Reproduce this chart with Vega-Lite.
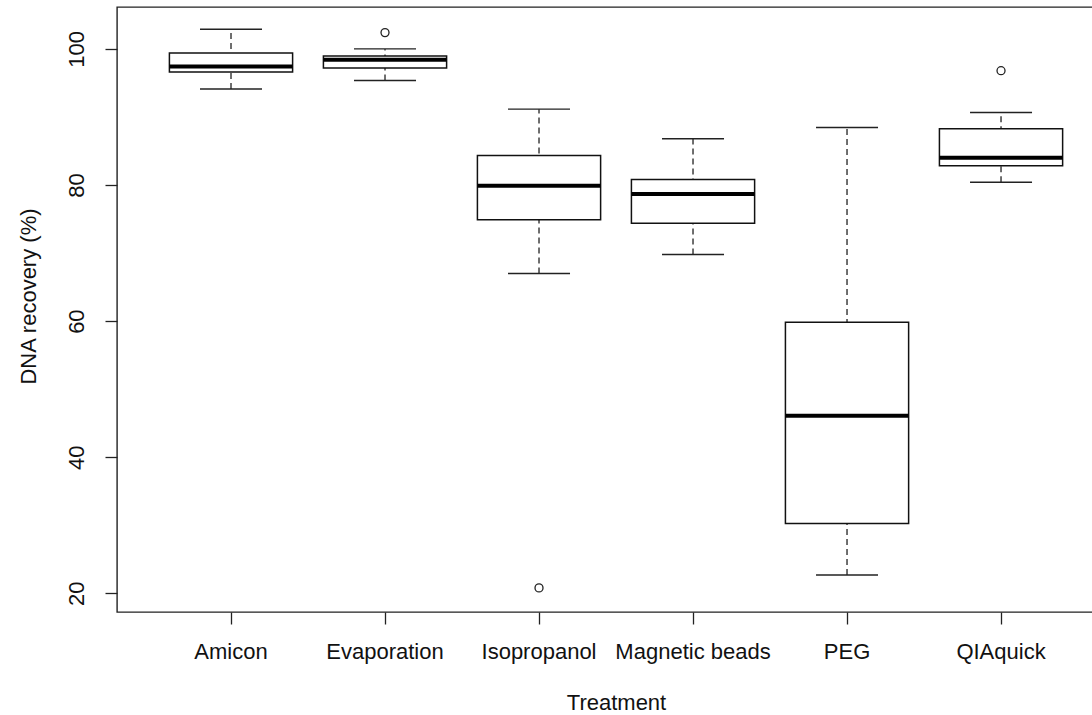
{
  "$schema": "https://vega.github.io/schema/vega-lite/v6.json",
  "width": 977,
  "height": 605,
  "autosize": {"type": "none"},
  "padding": {"left": 117, "top": 7, "right": 0, "bottom": 103},
  "background": "white",
  "config": {
    "view": {"stroke": "#222", "strokeWidth": 1.4},
    "font": "Liberation Sans"
  },
  "datasets": {
    "stats": [
      {"Treatment": "Amicon", "lower": 94.1, "q1": 96.6, "median": 97.4, "q3": 99.4, "upper": 102.9},
      {"Treatment": "Evaporation", "lower": 95.35, "q1": 97.2, "median": 98.4, "q3": 98.97, "upper": 100.0},
      {"Treatment": "Isopropanol", "lower": 67.0, "q1": 74.9, "median": 79.9, "q3": 84.35, "upper": 91.15},
      {"Treatment": "Magnetic beads", "lower": 69.8, "q1": 74.4, "median": 78.7, "q3": 80.8, "upper": 86.8},
      {"Treatment": "PEG", "lower": 22.7, "q1": 30.25, "median": 46.1, "q3": 59.85, "upper": 88.46},
      {"Treatment": "QIAquick", "lower": 80.4, "q1": 82.84, "median": 84.0, "q3": 88.26, "upper": 90.65}
    ],
    "outliers": [
      {"Treatment": "Evaporation", "value": 102.4},
      {"Treatment": "Isopropanol", "value": 20.8},
      {"Treatment": "QIAquick", "value": 96.8}
    ]
  },
  "encoding": {
    "x": {
      "field": "Treatment",
      "type": "nominal",
      "sort": ["Amicon", "Evaporation", "Isopropanol", "Magnetic beads", "PEG", "QIAquick"],
      "scale": {"type": "band", "paddingInner": 0.2, "paddingOuter": 0.272, "align": 0.6255, "round": false},
      "axis": {
        "title": "Treatment",
        "domain": false,
        "grid": false,
        "ticks": true,
        "tickSize": 12,
        "tickColor": "#222",
        "tickWidth": 1.3,
        "labelAngle": 0,
        "labelFontSize": 22,
        "labelColor": "#111",
        "labelPadding": 17,
        "labelBaseline": "top",
        "labelAlign": "center",
        "titleFontSize": 22,
        "titleFontWeight": "normal",
        "titleColor": "#111",
        "titleX": 499,
        "titleY": 97,
        "titleBaseline": "alphabetic",
        "titleAlign": "center"
      }
    }
  },
  "layer": [
    {
      "data": {"name": "stats"},
      "mark": {"type": "rule", "stroke": "#222", "strokeWidth": 1.3, "strokeDash": [6, 4]},
      "encoding": {
        "y": {
          "field": "lower",
          "type": "quantitative",
          "scale": {"domain": [17.26, 106.16], "nice": false, "zero": false},
          "axis": {
            "title": "DNA recovery (%)",
            "values": [20, 40, 60, 80, 100],
            "domain": false,
            "grid": false,
            "tickSize": 12,
            "tickColor": "#222",
            "tickWidth": 1.3,
            "labelAngle": 270,
            "labelAlign": "center",
            "labelBaseline": "bottom",
            "labelFontSize": 22,
            "labelColor": "#111",
            "labelPadding": 17,
            "titleFontSize": 22,
            "titleFontWeight": "normal",
            "titleColor": "#111",
            "titleAngle": 270,
            "titleX": -82,
            "titleY": 289,
            "titleAlign": "center",
            "titleBaseline": "alphabetic"
          }
        },
        "y2": {"field": "upper"}
      }
    },
    {
      "data": {"name": "stats"},
      "mark": {"type": "bar", "fill": "white", "stroke": "#111", "strokeWidth": 1.5},
      "encoding": {
        "y": {"field": "q1", "type": "quantitative"},
        "y2": {"field": "q3"}
      }
    },
    {
      "data": {"name": "stats"},
      "mark": {"type": "tick", "orient": "horizontal", "color": "#000", "size": 123, "thickness": 4, "opacity": 1},
      "encoding": {
        "y": {"field": "median", "type": "quantitative"}
      }
    },
    {
      "data": {"name": "stats"},
      "mark": {"type": "tick", "orient": "horizontal", "color": "#222", "size": 62, "thickness": 1.4, "opacity": 1},
      "encoding": {
        "y": {"field": "upper", "type": "quantitative"}
      }
    },
    {
      "data": {"name": "stats"},
      "mark": {"type": "tick", "orient": "horizontal", "color": "#222", "size": 62, "thickness": 1.4, "opacity": 1},
      "encoding": {
        "y": {"field": "lower", "type": "quantitative"}
      }
    },
    {
      "data": {"name": "outliers"},
      "mark": {"type": "point", "shape": "circle", "filled": false, "stroke": "#222", "strokeWidth": 1.3, "size": 64, "opacity": 1},
      "encoding": {
        "y": {"field": "value", "type": "quantitative"}
      }
    }
  ]
}
